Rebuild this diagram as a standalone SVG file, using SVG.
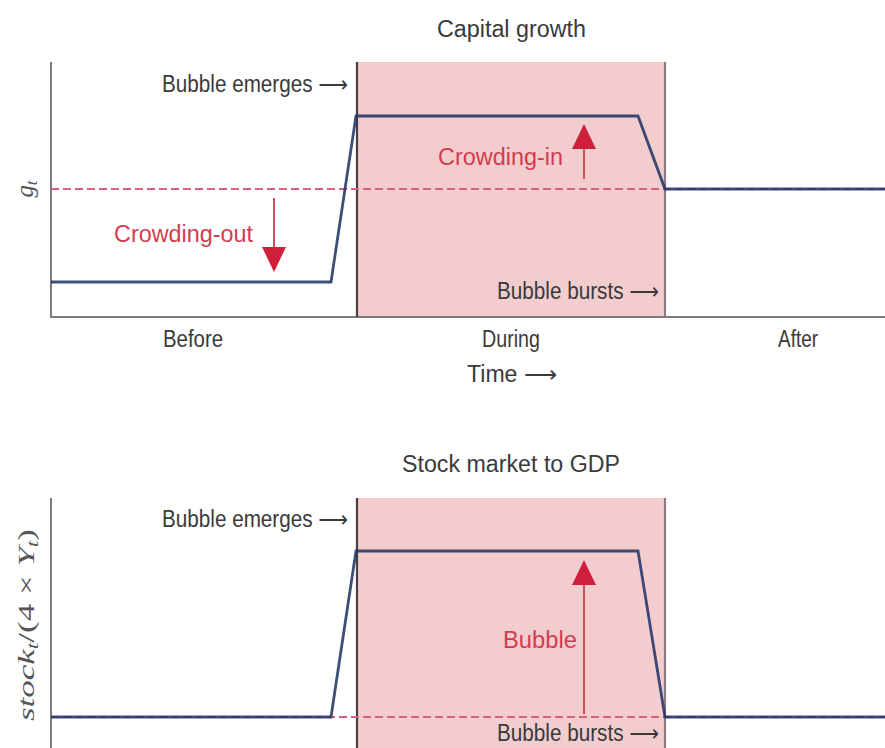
<svg xmlns="http://www.w3.org/2000/svg" width="885" height="748" viewBox="0 0 885 748">
<style>
.t{font-family:"Liberation Sans","DejaVu Sans",sans-serif;font-size:23px;fill:#3a3a3a}
.r{font-family:"Liberation Sans","DejaVu Sans",sans-serif;font-size:23px;fill:#d23c50}
.m{font-family:"Liberation Serif","DejaVu Serif",serif;font-size:24px;fill:#555}
.shade{fill:#f3cdce}
.axis{stroke:#7a7a7a;stroke-width:2;fill:none}
.lb{stroke:#4a3c40;stroke-width:2.2;fill:none}
.rb{stroke:#8c7c7e;stroke-width:2.2;fill:none}
.curve{stroke:#223566;stroke-width:2.8;fill:none;stroke-linejoin:miter;stroke-opacity:0.88}
.dash{stroke:#d9607a;stroke-width:2.2;stroke-dasharray:8 4;fill:none}
.arr{stroke:#d9485c;stroke-width:2;fill:none}
.head{fill:#cf1f3a}
</style>
<rect width="885" height="748" fill="#ffffff"/>

<g id="panel-top">
  <text id="title-top" class="t" x="511.5" y="37" text-anchor="middle" textLength="149" lengthAdjust="spacingAndGlyphs">Capital growth</text>
  <rect id="bubble-period-top" class="shade" x="357" y="62" width="308" height="255"/>
  <path class="axis" d="M51 62 V317 H885"/>
  <line class="lb" x1="357" y1="62" x2="357" y2="317"/>
  <line class="rb" x1="665" y1="62" x2="665" y2="317"/>
  <line class="dash" x1="51" y1="189" x2="885" y2="189"/>
  <polyline id="g-curve" class="curve" points="51,282 331,282 356,116 638,116 665,189 885,189"/>
  <text id="ylabel-top" class="m" transform="translate(33,189) rotate(-90)" text-anchor="middle"><tspan font-style="italic" font-size="25">g</tspan><tspan font-style="italic" font-size="17" dy="4">t</tspan></text>
  <g id="crowding-out">
    <text class="r" x="114" y="242" textLength="139" lengthAdjust="spacingAndGlyphs">Crowding-out</text>
  </g>
  <g id="crowding-in">
    <text class="r" x="438" y="165" textLength="125" lengthAdjust="spacingAndGlyphs">Crowding-in</text>
  </g>
  <text id="emerges-top" class="t" x="162" y="92" textLength="186" lengthAdjust="spacingAndGlyphs">Bubble emerges ⟶</text>
  <text id="bursts-top" class="t" x="497" y="299" textLength="162" lengthAdjust="spacingAndGlyphs">Bubble bursts ⟶</text>
  <text id="before" class="t" x="193" y="347" text-anchor="middle" textLength="60" lengthAdjust="spacingAndGlyphs">Before</text>
  <text id="during" class="t" x="511" y="347" text-anchor="middle" textLength="58" lengthAdjust="spacingAndGlyphs">During</text>
  <text id="after" class="t" x="798" y="347" text-anchor="middle" textLength="40" lengthAdjust="spacingAndGlyphs">After</text>
  <text id="time" class="t" x="467" y="382" textLength="90" lengthAdjust="spacingAndGlyphs">Time ⟶</text>
</g>

<g id="panel-bottom">
  <text id="title-bottom" class="t" x="511" y="472" text-anchor="middle" textLength="218" lengthAdjust="spacingAndGlyphs">Stock market to GDP</text>
  <rect id="bubble-period-bottom" class="shade" x="357" y="498" width="308" height="250"/>
  <path class="axis" d="M51 498 V748"/>
  <line class="lb" x1="357" y1="498" x2="357" y2="748"/>
  <line class="rb" x1="665" y1="498" x2="665" y2="748"/>
  <line class="dash" x1="51" y1="717" x2="885" y2="717"/>
  <polyline id="stock-curve" class="curve" points="51,717 331,717 356,551 638,551 665,717 885,717"/>
  <text id="ylabel-bottom" class="m" transform="translate(34,625) rotate(-90)" text-anchor="middle" textLength="192" lengthAdjust="spacingAndGlyphs"><tspan font-style="italic">stock</tspan><tspan font-style="italic" font-size="16" dy="4">t</tspan><tspan dy="-4">/(4 × </tspan><tspan font-style="italic">Y</tspan><tspan font-style="italic" font-size="16" dy="4">t</tspan><tspan dy="-4">)</tspan></text>
  <g id="bubble">
    <text class="r" x="503" y="648" textLength="74" lengthAdjust="spacingAndGlyphs">Bubble</text>
  </g>
  <text id="emerges-bottom" class="t" x="162" y="527" textLength="186" lengthAdjust="spacingAndGlyphs">Bubble emerges ⟶</text>
  <text id="bursts-bottom" class="t" x="497" y="741" textLength="162" lengthAdjust="spacingAndGlyphs">Bubble bursts ⟶</text>
</g>

<g id="connectors">
  <g id="arrow-crowding-out">
    <line class="arr" x1="274" y1="198" x2="274" y2="250"/>
    <polygon class="head" points="262,247 286,247 274,272"/>
  </g>
  <g id="arrow-crowding-in">
    <line class="arr" x1="584" y1="179" x2="584" y2="145"/>
    <polygon class="head" points="572,149 596,149 584,124"/>
  </g>
  <g id="arrow-bubble">
    <line class="arr" x1="584" y1="714" x2="584" y2="582"/>
    <polygon class="head" points="572,585 596,585 584,560"/>
  </g>
</g>
</svg>
